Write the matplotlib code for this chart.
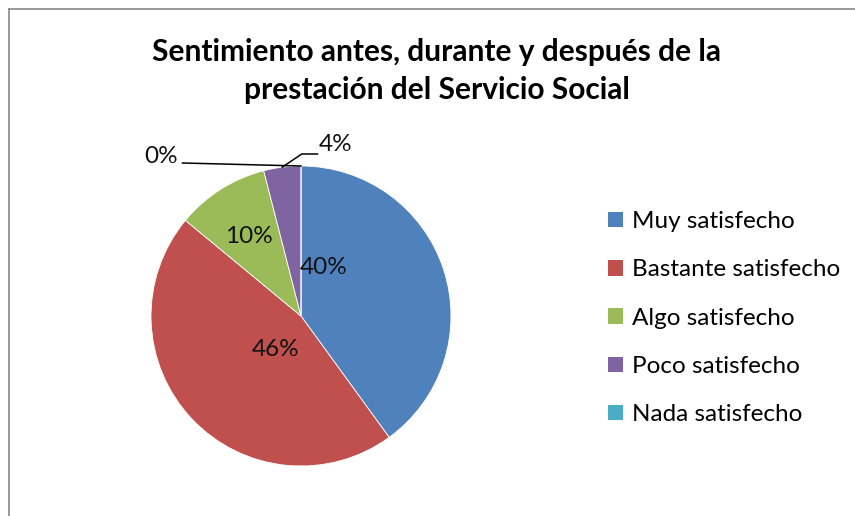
import numpy as np
import matplotlib
matplotlib.use('Agg')
import matplotlib.pyplot as plt
from matplotlib.lines import Line2D

# Chart data
categories = ['Muy satisfecho', 'Bastante satisfecho', 'Algo satisfecho',
              'Poco satisfecho', 'Nada satisfecho']
percentages = [40, 46, 10, 4, 0]
colors = ['#4F81BD', '#C0504D', '#9BBB59', '#8064A2', '#4BACC6']
title = 'Sentimiento antes, durante y después de la\nprestación del Servicio Social'

plt.rcParams['font.family'] = ['Lato', 'DejaVu Sans']

W, H = 855, 516
fig = plt.figure(figsize=(W / 100, H / 100), dpi=100)

# pie axes: centre (301, 316) px from top-left, radius 150 px
cx, cy, r = 301, 316, 150
ax = fig.add_axes([(cx - r) / W, (H - cy - r) / H, 2 * r / W, 2 * r / H])
wedges, _ = ax.pie(percentages, colors=colors, startangle=90, counterclock=False,
                   wedgeprops=dict(edgecolor='white', linewidth=0.6))
ax.set_xlim(-1, 1)
ax.set_ylim(-1, 1)
ax.set_aspect('equal')
ax.axis('off')

lab_size = 17.5

# labels inside the slices (Excel best-fit spots)
inner_pos = {0: (0.15, 0.32), 1: (-0.17, -0.22), 2: (-0.35, 0.53)}
for i, (x, y) in inner_pos.items():
    ax.text(x, y, f'{percentages[i]}%', ha='center', va='center', fontsize=lab_size,
            color='#111111')

# outside labels with leader lines
w4 = wedges[3]
a4 = np.deg2rad((w4.theta1 + w4.theta2) / 2)
p4 = (np.cos(a4), np.sin(a4))
ax.add_line(Line2D([p4[0], 0.005, 0.11], [p4[1], 1.08, 1.08], color='black',
                   lw=1.1, clip_on=False))
ax.text(0.12, 1.07, f'{percentages[3]}%', ha='left', va='bottom', fontsize=lab_size,
        color='#111111', clip_on=False)

w0 = wedges[4]
a0 = np.deg2rad((w0.theta1 + w0.theta2) / 2)
p0 = (np.cos(a0), np.sin(a0))
ax.add_line(Line2D([-0.79, p0[0]], [1.02, p0[1]], color='black', lw=1.1,
                   clip_on=False))
ax.text(-0.82, 1.06, f'{percentages[4]}%', ha='right', va='center', fontsize=lab_size,
        color='#111111', clip_on=False)

fig.text(437 / W, 1 - 71 / H, title, ha='center', va='center', fontsize=21.5,
         fontweight='bold', linespacing=1.42, color='black')

handles = [plt.Rectangle((0, 0), 1, 1, facecolor=c) for c in colors]
fig.legend(handles, categories, loc='upper left', bbox_to_anchor=(596 / W, 1 - 199 / H),
           frameon=False, fontsize=lab_size, handlelength=0.6, handleheight=0.6,
           handletextpad=0.4, labelspacing=1.12, borderpad=0)

# chart area border (left and top edges visible)
fig.add_artist(Line2D([8.5 / W, 8.5 / W], [0, 1 - 8.5 / H], color='#888888', lw=1.2))
fig.add_artist(Line2D([8.5 / W, 1], [1 - 8.5 / H, 1 - 8.5 / H], color='#888888', lw=1.2))

fig.savefig('out.png', dpi=100, facecolor='white')
